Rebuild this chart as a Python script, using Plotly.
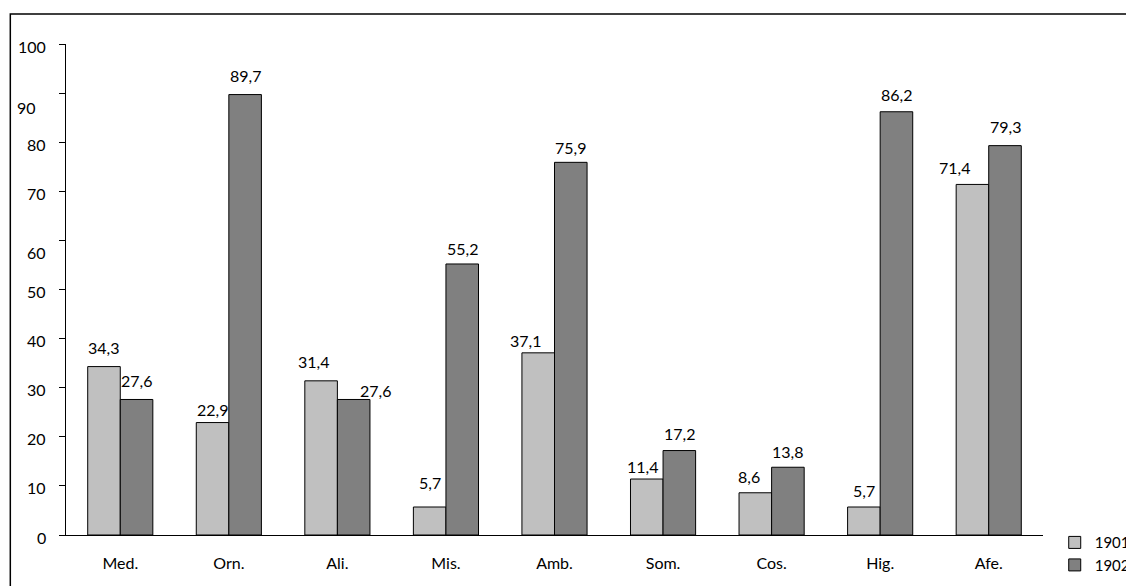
import plotly.graph_objects as go

# Category abbreviations and percentages per year
categories = ["Med.", "Orn.", "Ali.", "Mis.", "Amb.", "Som.", "Cos.", "Hig.", "Afe."]
values_1901 = [34.3, 22.9, 31.4, 5.7, 37.1, 11.4, 8.6, 5.7, 71.4]
values_1902 = [27.6, 89.7, 27.6, 55.2, 75.9, 17.2, 13.8, 86.2, 79.3]
series_names = ["1901", "1902"]
y_ticks = [0, 10, 20, 30, 40, 50, 60, 70, 80, 90, 100]

FONT = "Lato"
FS = 16
colors = ["#c0c0c0", "#808080"]

x_pos = list(range(len(categories)))
half = 0.15  # half of one bar width in axis units (bargap 0.4, two bars)

fig = go.Figure()
for name, vals, col in zip(series_names, [values_1901, values_1902], colors):
    fig.add_trace(go.Bar(
        x=x_pos, y=vals, name=name,
        marker=dict(color=col, line=dict(color="#000000", width=1)),
    ))

# Value labels: pixel nudges (dx, dy) per (series, category) where labels sit off-centre
nudge = {
    (0, 1): (0, 6), (1, 2): (22, 10), (0, 2): (-8, 0), (0, 3): (0, -6),
    (1, 3): (0, 4), (0, 4): (-13, 7), (1, 4): (0, 4), (0, 5): (-4, 6),
    (1, 5): (0, 2), (0, 6): (-6, 3), (1, 6): (0, 3), (1, 7): (0, 2),
    (0, 7): (0, 2), (0, 8): (-18, 2),
}
annotations = []
for s, vals in enumerate([values_1901, values_1902]):
    off = -half if s == 0 else half
    for i, v in enumerate(vals):
        dx, dy = nudge.get((s, i), (0, 0))
        annotations.append(dict(
            x=i + off, y=v, xref="x", yref="y", text=f"{v:.1f}".replace(".", ","),
            showarrow=False, xanchor="center", yanchor="middle",
            xshift=dx, yshift=19 - dy,
            font=dict(family=FONT, size=FS, color="#000000"),
        ))

# Y tick labels, two of which sit a little below their ticks
label_shift = {90: (-10, -14), 60: (0, -12)}
for t in y_ticks:
    dx, dy = label_shift.get(t, (0, -2))
    annotations.append(dict(
        x=0, y=t, xref="paper", yref="y", text=str(t), showarrow=False,
        xanchor="right", yanchor="middle", xshift=-18 + dx, yshift=dy,
        font=dict(family=FONT, size=FS, color="#000000"),
    ))

fig.update_layout(
    width=1126, height=586,
    margin=dict(l=66, r=83, t=44, b=51, autoexpand=False),
    paper_bgcolor="#ffffff", plot_bgcolor="#ffffff",
    barmode="group", bargap=0.4, bargroupgap=0,
    font=dict(family=FONT, size=FS, color="#000000"),
    showlegend=True,
    legend=dict(
        x=1.012, xanchor="left", y=0.018, yanchor="top",
        font=dict(family=FONT, size=15, color="#000000"),
        bgcolor="rgba(0,0,0,0)", itemwidth=30, tracegroupgap=0,
    ),
    annotations=annotations,
    shapes=[dict(
        type="rect", xref="paper", yref="paper",
        x0=-0.057, x1=1.2, y0=-0.2, y1=1.061,
        line=dict(color="#000000", width=1.5), fillcolor="rgba(0,0,0,0)",
        layer="below",
    )],
)
fig.update_xaxes(
    tickmode="array", tickvals=x_pos, ticktext=categories,
    range=[-0.5, len(categories) - 0.5],
    showline=True, linecolor="#000000", linewidth=1.2,
    ticks="", showgrid=False, zeroline=False,
    ticklabelstandoff=14,
    tickfont=dict(family=FONT, size=FS, color="#000000"),
)
fig.update_yaxes(
    range=[0, 100], tickmode="array", tickvals=y_ticks,
    showticklabels=False,
    showline=True, linecolor="#000000", linewidth=1.2,
    ticks="outside", ticklen=6, tickcolor="#000000", tickwidth=1,
    showgrid=False, zeroline=False,
)

fig.write_html("out.html")
